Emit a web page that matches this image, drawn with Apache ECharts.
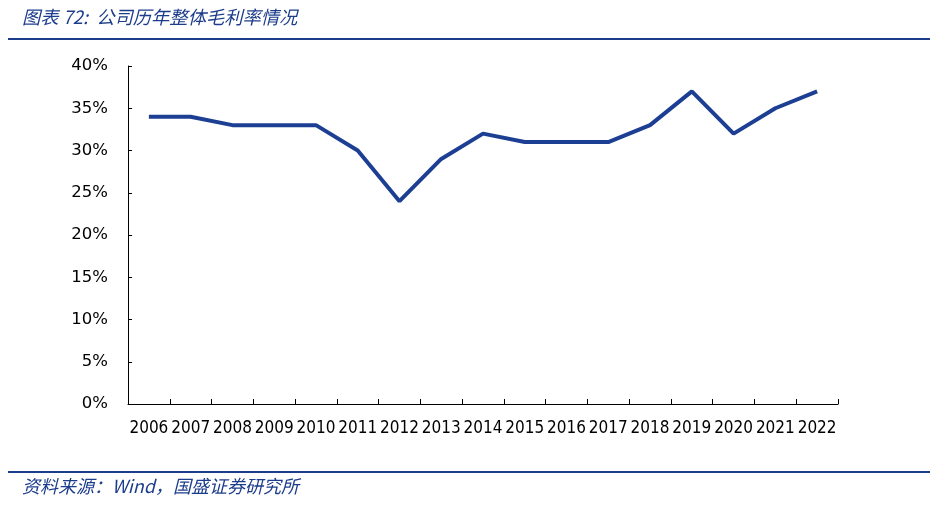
<!DOCTYPE html>
<html><head><meta charset="utf-8">
<script src="https://cdn.jsdelivr.net/npm/echarts@6/dist/echarts.min.js"></script>
<style>
html,body{margin:0;padding:0;background:#fff;}
#wrap{position:relative;width:940px;height:508px;}
#chart{position:absolute;left:0;top:0;width:940px;height:508px;}
.title{position:absolute;left:22px;top:3px;font-family:"Noto Sans CJK SC";font-style:italic;font-size:18.3px;color:#1c3c8c;}
.src{position:absolute;left:22px;top:472px;font-family:"Noto Sans CJK SC";font-style:italic;font-size:18px;color:#1c3c8c;}
.rule{position:absolute;left:8px;width:922px;height:2px;background:#1c3c8c;}
</style></head>
<body><div id="wrap">
<div id="chart"></div>
<div class="title">图表 72:&nbsp; 公司历年整体毛利率情况</div>
<div class="rule" style="top:38px"></div>
<div class="rule" style="top:471px"></div>
<div class="src">资料来源：Wind，国盛证券研究所</div>
</div>
<script>
var years = ['2006','2007','2008','2009','2010','2011','2012','2013','2014','2015','2016','2017','2018','2019','2020','2021','2022'];
var grossMargin = [34,34,33,33,33,30,24,29,32,31,31,31,33,37,32,35,37];
var chart = echarts.init(document.getElementById('chart'));
chart.setOption({
  animation:false,
  grid:{left:128,right:102,top:66,bottom:104},
  xAxis:{type:'category',data:years,boundaryGap:true,
    axisLine:{show:true,lineStyle:{color:'#000',width:1}},
    axisTick:{show:true,inside:true,length:5,interval:0,lineStyle:{color:'#000',width:1}},
    axisLabel:{color:'#000',fontSize:17,fontFamily:'DejaVu Sans Condensed, Liberation Sans',margin:16,interval:0}},
  yAxis:{type:'value',min:0,max:40,interval:5,
    axisLine:{show:true,lineStyle:{color:'#000',width:1}},
    axisTick:{show:true,inside:true,length:4,lineStyle:{color:'#000',width:1}},
    splitLine:{show:false},
    axisLabel:{color:'#000',fontSize:16.5,fontFamily:'DejaVu Sans, Liberation Sans',margin:20,formatter:'{value}%'}},
  series:[{type:'line',data:grossMargin,symbol:'none',lineStyle:{color:'#1c3f94',width:4}}]
});
</script>
</body></html>
